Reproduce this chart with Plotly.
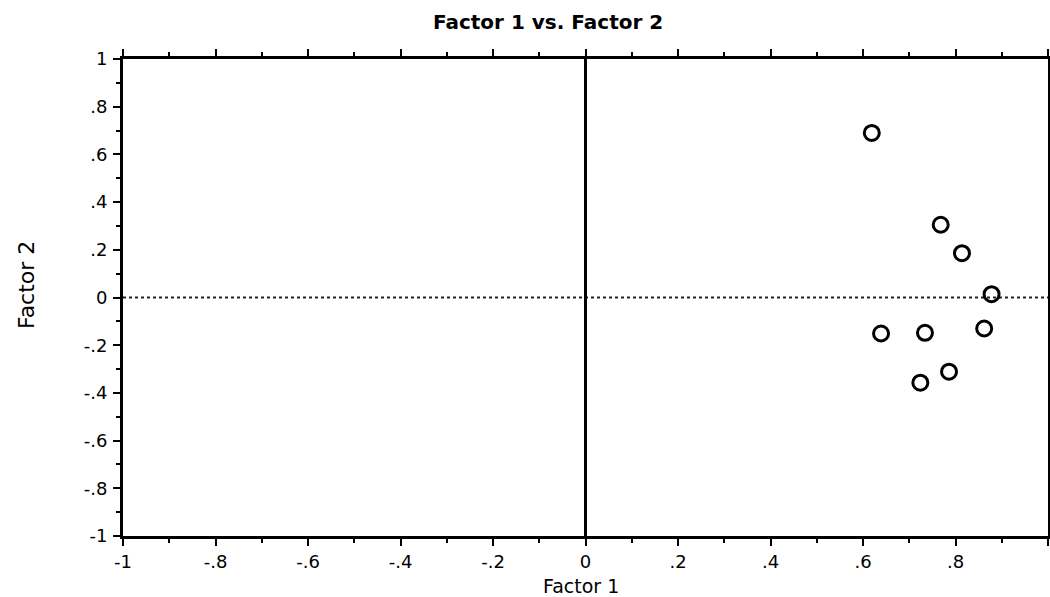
import plotly.graph_objects as go

factor1 = [0.619, 0.768, 0.814, 0.878, 0.639, 0.734, 0.862, 0.786, 0.724]
factor2 = [0.690, 0.305, 0.186, 0.014, -0.151, -0.148, -0.130, -0.311, -0.357]

tick_vals = [-1, -0.8, -0.6, -0.4, -0.2, 0, 0.2, 0.4, 0.6, 0.8, 1]
tick_text = ["-1", "-.8", "-.6", "-.4", "-.2", "0", ".2", ".4", ".6", ".8", "1"]

FONT = "DejaVu Sans"

fig = go.Figure()
fig.add_trace(go.Scatter(
    x=factor1, y=factor2, mode="markers",
    marker=dict(symbol="circle-open", size=15, color="black",
                line=dict(width=3, color="black")),
    showlegend=False, cliponaxis=False,
))

axis_common = dict(
    range=[-1, 1], tickvals=tick_vals, ticktext=tick_text,
    showgrid=False, showline=True, linecolor="black", linewidth=3,
    mirror="ticks", ticks="outside", ticklen=7, tickwidth=2, tickcolor="black",
    minor=dict(dtick=0.1, ticks="outside", ticklen=4, tickwidth=2, tickcolor="black"),
    tickfont=dict(family=FONT, size=18, color="black"),
)

fig.update_xaxes(**axis_common, zeroline=True, zerolinecolor="black", zerolinewidth=3,
                 ticklabelstandoff=0)
fig.update_yaxes(**axis_common, zeroline=False, ticklabelstandoff=2)

fig.add_shape(type="line", xref="paper", yref="y", x0=0, x1=1, y0=0, y1=0,
              line=dict(color="#222", width=2, dash="dot"), layer="below")

# axis titles placed as annotations
fig.add_annotation(text="Factor 1", xref="paper", yref="paper",
                   x=(581 - 123) / 925, y=(536 - 586) / 477,
                   xanchor="center", yanchor="middle", showarrow=False,
                   font=dict(family=FONT, size=19, color="black"))
fig.add_annotation(text="Factor 2", xref="paper", yref="paper",
                   x=(26 - 123) / 925, y=(536 - 285) / 477, textangle=-90,
                   xanchor="center", yanchor="middle", showarrow=False,
                   font=dict(family=FONT, size=22, color="black"))

fig.update_layout(
    width=1050, height=597,
    margin=dict(l=123, r=2, t=59, b=61, autoexpand=False),
    paper_bgcolor="white", plot_bgcolor="white",
    title=dict(text="<b>Factor 1 vs. Factor 2</b>", x=0.522, xanchor="center",
               y=1 - 22 / 597, yanchor="middle", yref="container",
               font=dict(family=FONT, size=20, color="black")),
)

fig.write_html("out.html", config={"displayModeBar": False},
               post_script="document.body.style.margin='0';document.body.style.overflow='hidden';")
